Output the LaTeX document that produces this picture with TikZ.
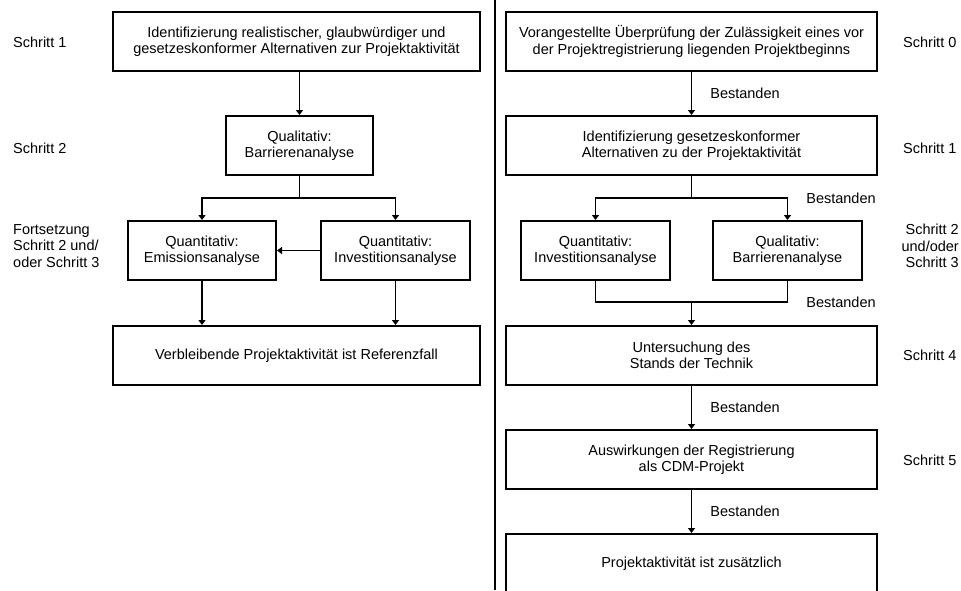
\documentclass[tikz,border=0pt]{standalone}
\usepackage{fontspec}
\setmainfont{Liberation Sans}
\usetikzlibrary{arrows.meta}

\begin{document}
\begin{tikzpicture}[x=1pt,y=-1pt,font=\fontsize{14.5}{16.5}\selectfont]
\clip (0,0) rectangle (961,590);

\begin{scope}[every node/.style={rectangle,draw,line width=2pt,align=center,
                                 minimum height=59pt,inner sep=0pt}]
    % left side
    \node[minimum width=367pt] (A) at (296.5,41.5) {Identifizierung realistischer, glaubwürdiger und\\gesetzeskonformer Alternativen zur Projektaktivität};
    \node[minimum width=147pt] (B) at (299.5,145.5) {Qualitativ:\\Barrierenanalyse};
    \node[minimum width=148pt] (C) at (202,250.5) {Quantitativ:\\Emissionsanalyse};
    \node[minimum width=149pt] (D) at (395.5,250.5) {Quantitativ:\\Investitionsanalyse};
    \node[minimum width=367pt] (E) at (296.5,355.5) {Verbleibende Projektaktivität ist Referenzfall};
    % right side
    \node[minimum width=371pt] (F) at (691.5,41.5) {Vorangestellte Überprüfung der Zulässigkeit eines vor\\der Projektregistrierung liegenden Projektbeginns};
    \node[minimum width=371pt] (G) at (691.5,145.5) {Identifizierung gesetzeskonformer\\Alternativen zu der Projektaktivität};
    \node[minimum width=149pt] (H) at (595.5,250.5) {Quantitativ:\\Investitionsanalyse};
    \node[minimum width=149pt] (I) at (787.5,250.5) {Qualitativ:\\Barrierenanalyse};
    \node[minimum width=371pt] (J) at (691.5,355.5) {Untersuchung des\\Stands der Technik};
    \node[minimum width=371pt] (K) at (691.5,459.5) {Auswirkungen der Registrierung\\als CDM-Projekt};
    \node[minimum width=371pt] (L) at (691.5,563.5) {\raisebox{3pt}{Projektaktivität ist zusätzlich}};
\end{scope}

\begin{scope}[every node/.style={inner sep=0pt}]
    \node[anchor=west] (s1) at (13,42) {Schritt 1};
    \node[anchor=west] (s2) at (13,148) {Schritt 2};
    \node[anchor=west,align=left] (s3) at (13,246) {Fortsetzung\\Schritt 2 und/\\oder Schritt 3};
    \node[anchor=west] (t0) at (903,42) {Schritt 0};
    \node[anchor=west] (t1) at (903,148) {Schritt 1};
    \node[anchor=east,align=right] (t2) at (959,246) {Schritt 2\\und/oder\\Schritt 3};
    \node[anchor=west] (t4) at (903,355) {Schritt 4};
    \node[anchor=west] (t5) at (903,460) {Schritt 5};
    \node (b1) at (745,93) {Bestanden};
    \node (b2) at (841,198) {Bestanden};
    \node (b3) at (841,302) {Bestanden};
    \node (b4) at (745,407) {Bestanden};
    \node (b5) at (745,511) {Bestanden};
\end{scope}

\draw[line width=2pt] (494.5,0) -- (494.5,590);

\coordinate (BC) at (299.5,198);
\coordinate (GH) at (691.5,198);
\coordinate (HJ) at (691.5,302);

\begin{scope}[line width=1.8pt,>={Triangle[width=7pt,length=5pt]},
              every edge/.style={draw=black,line width=1.8pt}]
    \draw [->] (B |- A.south) -- (B);
    \path (B) edge (BC);
    \draw [->] (BC) -| (C);
    \draw [->] (BC) -| (D);
    \path [->] (D) edge (C);
    \draw [->] (C) -- (C |- E.north);
    \draw [->] (D) -- (D |- E.north);

    \path [->] (F) edge (G);
    \path (G) edge (GH);
    \draw [->] (GH) -| (H);
    \draw [->] (GH) -| (I);
    \draw (H.south) |- (HJ) -| (I.south);
    \path [->] (HJ) edge (J);
    \path [->] (J) edge (K);
    \path [->] (K) edge (L);
\end{scope}
\end{tikzpicture}
\end{document}
